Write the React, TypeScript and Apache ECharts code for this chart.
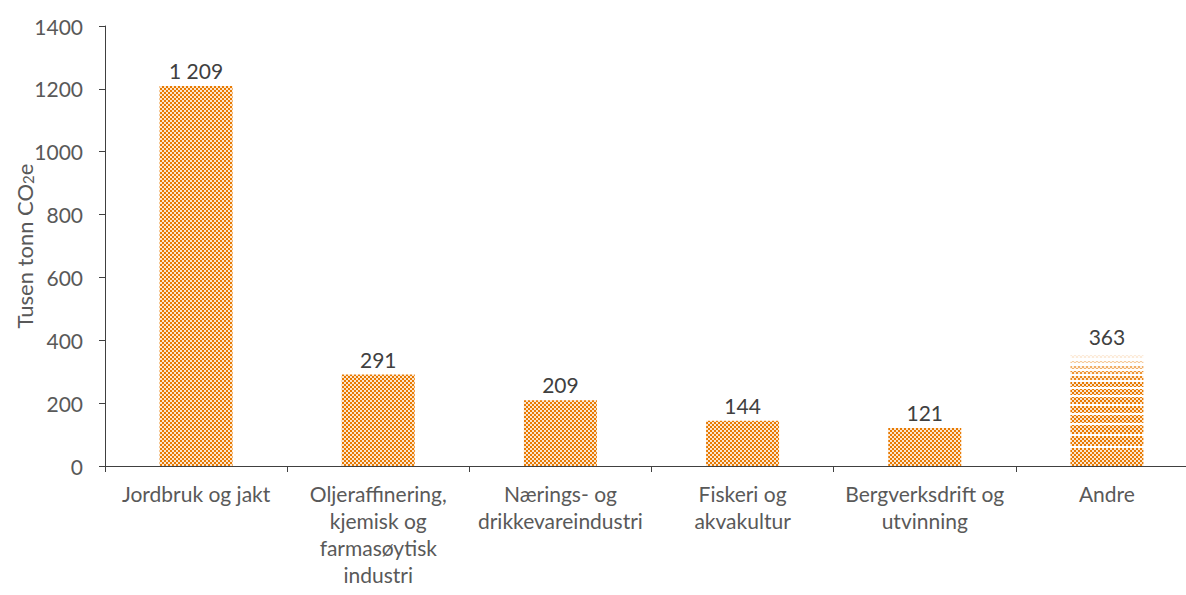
import React, { useEffect, useRef } from "react";
import * as echarts from "echarts";

const categories = [
  "Jordbruk og jakt",
  "Oljeraffinering,\nkjemisk og\nfarmasøytisk\nindustri",
  "Nærings- og\ndrikkevareindustri",
  "Fiskeri og\nakvakultur",
  "Bergverksdrift og\nutvinning",
  "Andre",
];
const values = [1209, 291, 209, 144, 121, 363];
const yMin = 0;
const yMax = 1400;
const yInterval = 200;

const FONT = "Lato";
const ORANGE = "#E87A02";
const ORANGE_LIGHT = "#FBE6CF";
const TEXT = "#595959";
const LABEL = "#404040";
const AXIS = "#404040";

// band layout for the striped "Andre" bar (pixel offsets from bottom, reference height 114)
const BAND_REF = 114;
const BANDS: [number, number, number][] = [
  [0, 18, 1],
  [20, 30, 1],
  [32, 41, 1],
  [43, 51, 1],
  [53, 60, 1],
  [62, 69, 1],
  [71, 77, 1],
  [79, 84, 1],
  [86, 90, 0.9],
  [92, 95, 0.8],
  [97, 100, 0.6],
  [103, 105, 0.4],
  [108, 111, 0.15],
];

function makeChecker(color: string, bg: string) {
  const c = document.createElement("canvas");
  c.width = 4;
  c.height = 4;
  const ctx = c.getContext("2d")!;
  ctx.fillStyle = bg;
  ctx.fillRect(0, 0, 4, 4);
  ctx.fillStyle = color;
  ctx.fillRect(0, 0, 2, 2);
  ctx.fillRect(2, 2, 2, 2);
  return c;
}

function fmt(v: number) {
  return String(v).replace(/\B(?=(\d{3})+(?!\d))/g, " ");
}

export default function App() {
  const ref = useRef<HTMLDivElement>(null);
  useEffect(() => {
    document.body.style.margin = "0";
    const chart = echarts.init(ref.current!, undefined, { renderer: "svg" });
    const pattern: any = { image: makeChecker(ORANGE, ORANGE_LIGHT), repeat: "repeat" };
    const last = categories.length - 1;
    const BAR_W = 73;
    chart.setOption({
      animation: false,
      grid: {
        left: 105,
        top: 26,
        width: 1093,
        height: 440,
        containLabel: false,
        outerBoundsMode: "none",
      },
      xAxis: {
        type: "category",
        data: categories,
        axisLine: { show: true, lineStyle: { color: AXIS, width: 1 } },
        axisTick: { show: true, length: 6, lineStyle: { color: AXIS } },
        axisLabel: {
          interval: 0,
          color: TEXT,
          fontFamily: FONT,
          fontSize: 21,
          lineHeight: 27,
          margin: 14,
        },
      },
      yAxis: {
        type: "value",
        min: yMin,
        max: yMax,
        interval: yInterval,
        name: "{a|Tusen tonn CO}{s|2}{a|e}",
        nameLocation: "middle",
        nameGap: 70,
        nameMoveOverlap: false,
        nameTextStyle: {
          color: TEXT,
          fontFamily: FONT,
          fontSize: 22,
          rich: {
            a: { color: TEXT, fontFamily: FONT, fontSize: 22, lineHeight: 32, verticalAlign: "bottom" },
            s: { color: TEXT, fontFamily: FONT, fontSize: 15, lineHeight: 14, verticalAlign: "bottom" },
          },
        },
        axisLine: { show: true, lineStyle: { color: AXIS, width: 1 } },
        axisTick: { show: true, length: 6, lineStyle: { color: AXIS } },
        splitLine: { show: false },
        axisLabel: {
          color: TEXT,
          fontFamily: FONT,
          fontSize: 21,
          margin: 22,
          formatter: (v: number) => String(v),
        },
      },
      series: [
        {
          type: "bar",
          barWidth: BAR_W,
          data: values.map((v, i) =>
            i === last ? { value: v, itemStyle: { color: "rgba(0,0,0,0)" } } : v
          ),
          itemStyle: { color: pattern },
          label: {
            show: true,
            position: "top",
            distance: 5,
            color: LABEL,
            fontFamily: FONT,
            fontSize: 21,
            formatter: (p: any) => fmt(p.value),
          },
          z: 2,
        },
        {
          type: "custom",
          data: [[last, values[last]]],
          z: 3,
          renderItem: (params: any, api: any) => {
            const base = api.coord([api.value(0), 0]);
            const top = api.coord([api.value(0), api.value(1)]);
            const h = base[1] - top[1];
            const s = h / BAND_REF;
            return {
              type: "group",
              children: BANDS.map(([b, t, o]) => ({
                type: "rect",
                shape: {
                  x: base[0] - BAR_W / 2,
                  y: base[1] - t * s,
                  width: BAR_W,
                  height: (t - b) * s,
                },
                style: { fill: pattern, opacity: o },
              })),
            };
          },
        },
      ],
    });
    return () => chart.dispose();
  }, []);
  return <div ref={ref} style={{ width: 1186, height: 595 }} />;
}
